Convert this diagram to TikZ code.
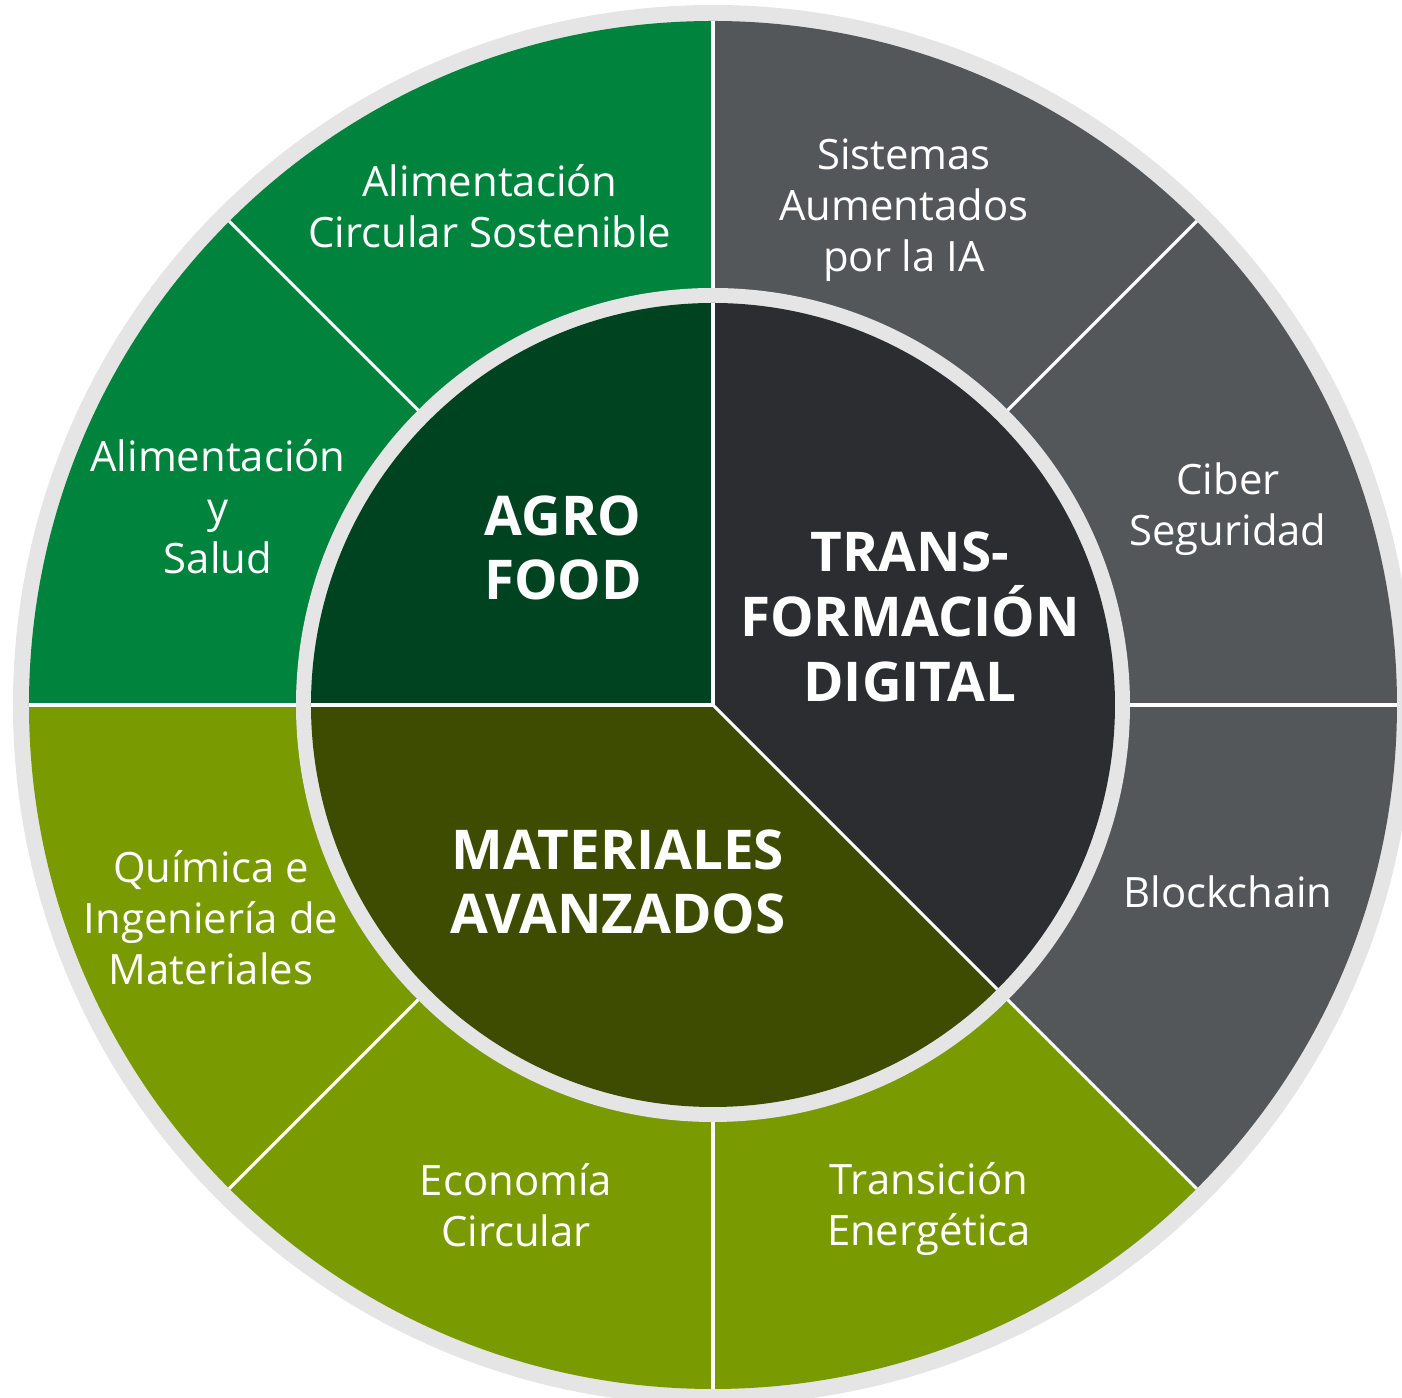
\documentclass[tikz,border=0pt]{standalone}
\usepackage{fontspec}
\setmainfont{Open Sans}
\definecolor{ringgrey}{HTML}{E5E5E5}
\definecolor{agrogreen}{HTML}{00833C}
\definecolor{matolive}{HTML}{7A9A01}
\definecolor{digigrey}{HTML}{54575A}
\definecolor{agrodark}{HTML}{004321}
\definecolor{matdark}{HTML}{3D4C00}
\definecolor{digidark}{HTML}{2C2D30}
\tikzset{
  ringlabel/.style={text=white, align=center, font=\fontsize{11.9}{14.5}\selectfont},
  corelabel/.style={text=white, align=center, font=\fontsize{15.6}{18.4}\selectfont\bfseries},
  sepline/.style={draw=white, line width=0.9pt}
}

\begin{document}
\begin{tikzpicture}
  \useasboundingbox (-7.13,-6.93) rectangle (6.89,7.05);
  \clip (-7.13,-6.93) rectangle (6.89,7.05);
  % outer ring
  \fill[ringgrey] (0,0) circle[radius=7.00];
  \fill[agrogreen] (0,0) -- (90:6.84) arc[start angle=90, end angle=180, radius=6.84] -- cycle;
  \fill[matolive] (0,0) -- (180:6.84) arc[start angle=180, end angle=315, radius=6.84] -- cycle;
  \fill[digigrey] (0,0) -- (-45:6.84) arc[start angle=-45, end angle=90, radius=6.84] -- cycle;
  \draw[sepline] (0:4.1) -- (0:6.84);
  \draw[sepline] (45:4.1) -- (45:6.84);
  \draw[sepline] (90:4.1) -- (90:6.84);
  \draw[sepline] (135:4.1) -- (135:6.84);
  \draw[sepline] (180:4.1) -- (180:6.84);
  \draw[sepline] (225:4.1) -- (225:6.84);
  \draw[sepline] (270:4.1) -- (270:6.84);
  \draw[sepline] (315:4.1) -- (315:6.84);
  % inner disc
  \fill[ringgrey] (0,0) circle[radius=4.17];
  \fill[agrodark] (0,0) -- (90:4.02) arc[start angle=90, end angle=180, radius=4.02] -- cycle;
  \fill[matdark] (0,0) -- (180:4.02) arc[start angle=180, end angle=315, radius=4.02] -- cycle;
  \fill[digidark] (0,0) -- (-45:4.02) arc[start angle=-45, end angle=90, radius=4.02] -- cycle;
  \draw[sepline] (0,0) -- (90:4.02);
  \draw[sepline] (0,0) -- (180:4.02);
  \draw[sepline] (0,0) -- (315:4.02);

  \node[corelabel] (agro) at (-1.50,1.57) {AGRO\\FOOD};
  \node[corelabel] (digital) at (1.97,0.88) {TRANS-\\FORMACIÓN\\DIGITAL};
  \node[corelabel] (materiales) at (-0.95,-1.77) {MATERIALES\\AVANZADOS};

  \node[ringlabel] (circular) at (-2.23,4.99) {Alimentación\\Circular Sostenible};
  \node[ringlabel] (sistemas) at (1.91,4.95) {Sistemas\\Aumentados\\por la IA};
  \node[ringlabel] (ciber) at (5.15,1.96) {Ciber\\Seguridad};
  \node[ringlabel] (blockchain) at (5.15,-1.87) {Blockchain};
  \node[ringlabel] (energetica) at (2.16,-5.04) {Transición\\Energética};
  \node[ringlabel] (economia) at (-1.97,-5.00) {Economía\\Circular};
  \node[ringlabel] (quimica) at (-5.02,-2.13) {Química e\\Ingeniería de\\Materiales};
  \node[ringlabel] (salud) at (-4.95,1.98) {Alimentación\\y\\Salud};
\end{tikzpicture}
\end{document}
